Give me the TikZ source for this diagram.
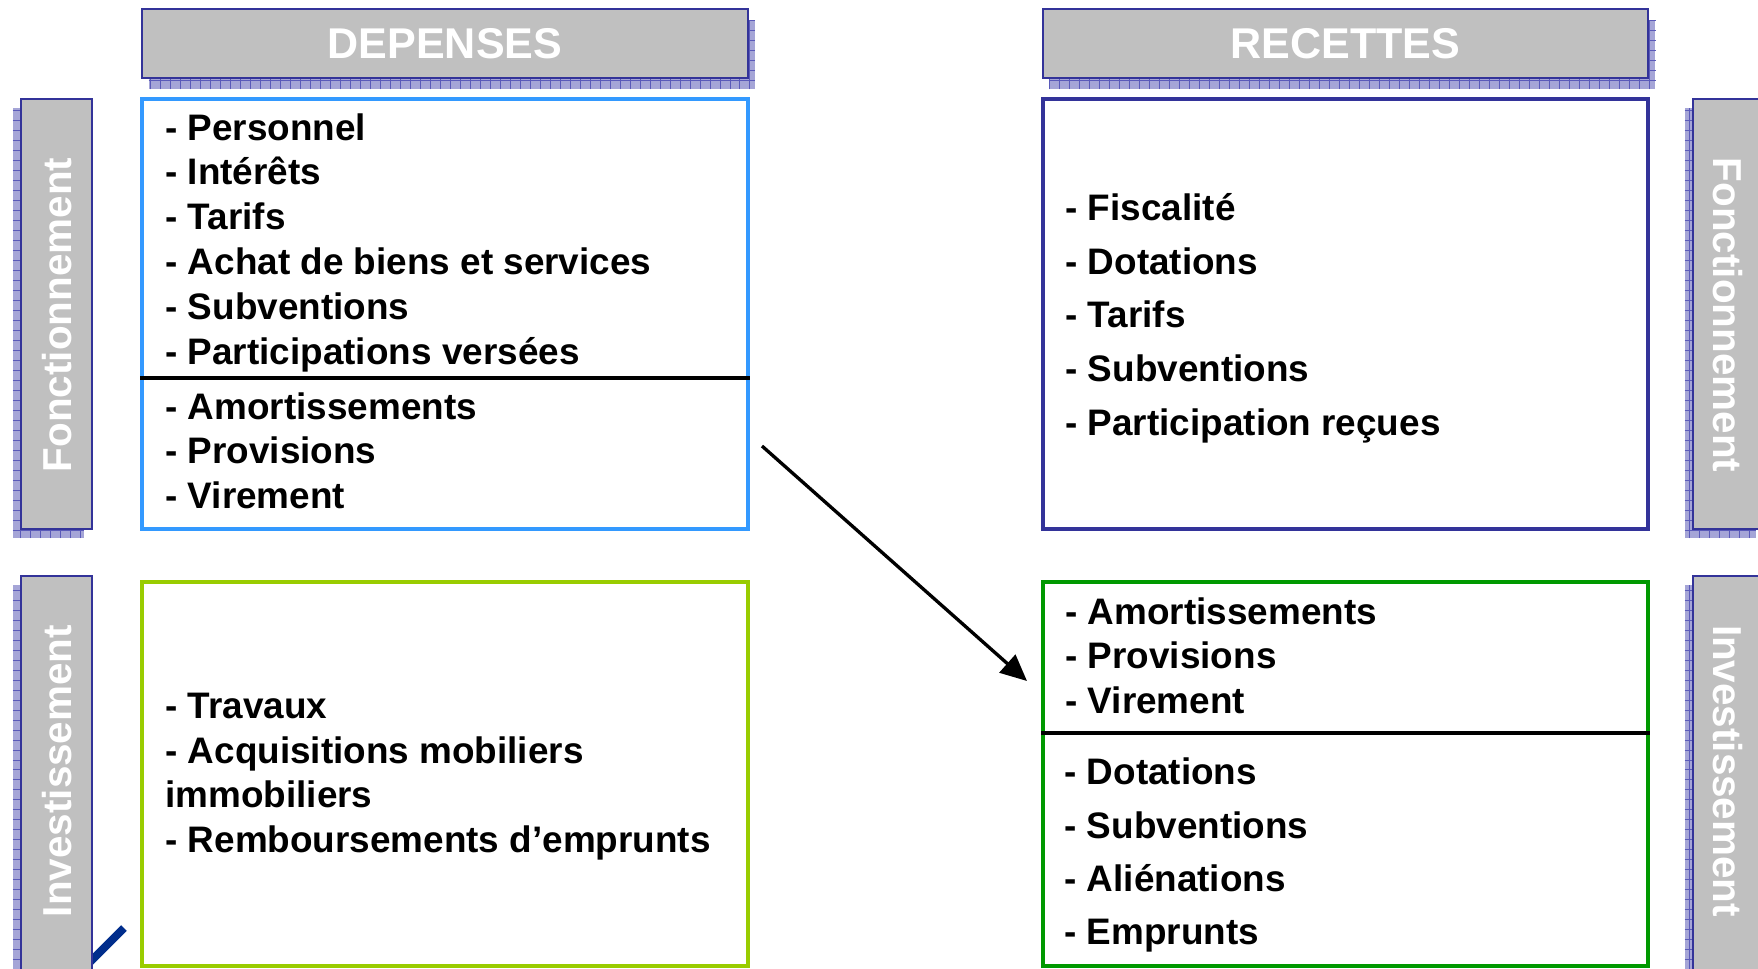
\documentclass[tikz,border=0pt]{standalone}
\usepackage{fontspec}
\setmainfont{Liberation Sans}
\usetikzlibrary{arrows.meta}

\definecolor{hdrgrey}{RGB}{192,192,192}
\definecolor{navy}{RGB}{51,51,153}
\definecolor{shadefill}{RGB}{165,165,215}
\definecolor{shadeline}{RGB}{90,90,185}
\definecolor{skyblue}{RGB}{51,153,255}
\definecolor{limegreen}{RGB}{153,204,0}
\definecolor{leafgreen}{RGB}{0,153,0}
\definecolor{inkblue}{RGB}{0,45,140}

\tikzset{
  header/.style={draw=navy, line width=1.2pt, fill=hdrgrey, minimum width=12.12cm,
    minimum height=1.38cm, inner sep=0pt, text=white, font=\fontsize{24.5}{28}\selectfont\bfseries},
  headshade/.style={fill=shadefill, minimum width=12.12cm, minimum height=1.38cm, inner sep=0pt},
  tab/.style={draw=navy, line width=1.2pt, fill=hdrgrey, minimum width=1.42cm, inner sep=0pt},
  tabshade/.style={fill=shadefill, minimum width=1.42cm, inner sep=0pt},
  tablabel/.style={text=white, font=\fontsize{23}{27}\selectfont\bfseries, inner sep=0pt},
  shadegrid/.style={draw=shadeline, line width=0.4pt},
  listbox/.style={line width=2pt, fill=white, minimum width=12.12cm, inner sep=0pt},
  items/.style={anchor=north west, align=left, inner sep=0pt,
    font=\fontsize{21}{25.5}\selectfont\bfseries},
  sepline/.style={line width=2.6pt, black},
  flow/.style={line width=1.9pt, -{Triangle[length=15pt,width=13.5pt]}},
  stub/.style={line width=4.5pt, inkblue},
}

\begin{document}
\begin{tikzpicture}[x=0.02cm, y=-0.02cm]
  \useasboundingbox (0,0) rectangle (1758,968);
  \clip (0,0) rectangle (1758,968);

  % ombres
  \node[headshade] (depshade) at (452,54.5) {};
  \node[headshade] (recshade) at (1352.5,54.5) {};
  \node[tabshade, minimum height=8.6cm] (flshade) at (48.5,323) {};
  \node[tabshade, minimum height=8.8cm] (ilshade) at (48.5,805) {};
  \node[tabshade, minimum height=8.6cm] (frshade) at (1720.5,323) {};
  \node[tabshade, minimum height=8.8cm] (irshade) at (1720.5,805) {};
  \foreach \s in {depshade,recshade,flshade,ilshade,frshade,irshade}
    \draw[shadegrid, step=0.2cm] (\s.south west) grid (\s.north east);

  % en-tetes et onglets
  \node[header] (dephead) at (445,43.5) {DEPENSES};
  \node[header, minimum width=12.1cm] (rechead) at (1345.5,43.5) {RECETTES};

  \coordinate (stubtop) at (124,928);
  \coordinate (stubend) at (80,972);
  \draw[stub] (stubend) -- (stubtop);

  \node[tab, minimum height=8.6cm] (tabfl) at (56.5,314) {};
  \node[tab, minimum height=8.8cm] (tabil) at (56.5,796) {};
  \node[tab, minimum height=8.6cm] (tabfr) at (1728.5,314) {};
  \node[tab, minimum height=8.8cm] (tabir) at (1728.5,796) {};
  \node[tablabel, rotate=90] (txtfl) at (57,315) {Fonctionnement};
  \node[tablabel, rotate=90] (txtil) at (57,771) {Investissement};
  \node[tablabel, rotate=-90] (txtfr) at (1728,315) {Fonctionnement};
  \node[tablabel, rotate=-90] (txtir) at (1728,771) {Investissement};

  % cadres
  \node[listbox, draw=skyblue, minimum height=8.6cm] (dfbox) at (445,314) {};
  \node[listbox, draw=navy, minimum width=12.1cm, minimum height=8.6cm] (rfbox) at (1345.5,314) {};
  \node[listbox, draw=limegreen, minimum height=7.68cm] (dibox) at (445,774) {};
  \node[listbox, draw=leafgreen, minimum width=12.1cm, minimum height=7.68cm] (ribox) at (1345.5,774) {};

  \coordinate (dfsep) at (0,378);
  \coordinate (risep) at (0,733);
  \draw[sepline] (dfbox.west |- dfsep) -- (dfbox.east |- dfsep);
  \draw[sepline] (ribox.west |- risep) -- (ribox.east |- risep);

  % textes
  \node[items] (dfhaut) at (165,113) {- Personnel\\- Intérêts\\- Tarifs\\- Achat de biens et services\\- Subventions\\- Participations versées};
  \node[items] (dfbas) at (165,392) {- Amortissements\\- Provisions\\- Virement};
  \node[items, font=\fontsize{21}{30.6}\selectfont\bfseries] (rflist) at (1065,193) {- Fiscalité\\- Dotations\\- Tarifs\\- Subventions\\- Participation reçues};
  \node[items] (dilist) at (165,692.5) {- Travaux\\- Acquisitions mobiliers\\immobiliers\\- Remboursements d’emprunts};
  \node[items] (rihaut) at (1065,597) {- Amortissements\\- Provisions\\- Virement};
  \node[items, font=\fontsize{21}{30.4}\selectfont\bfseries] (ribas) at (1064,757.5) {- Dotations\\- Subventions\\- Aliénations\\- Emprunts};

  \coordinate (virfrom) at (762,446);
  \coordinate (virto) at (1027,681);
  \draw[flow] (virfrom) -- (virto);
\end{tikzpicture}
\end{document}
